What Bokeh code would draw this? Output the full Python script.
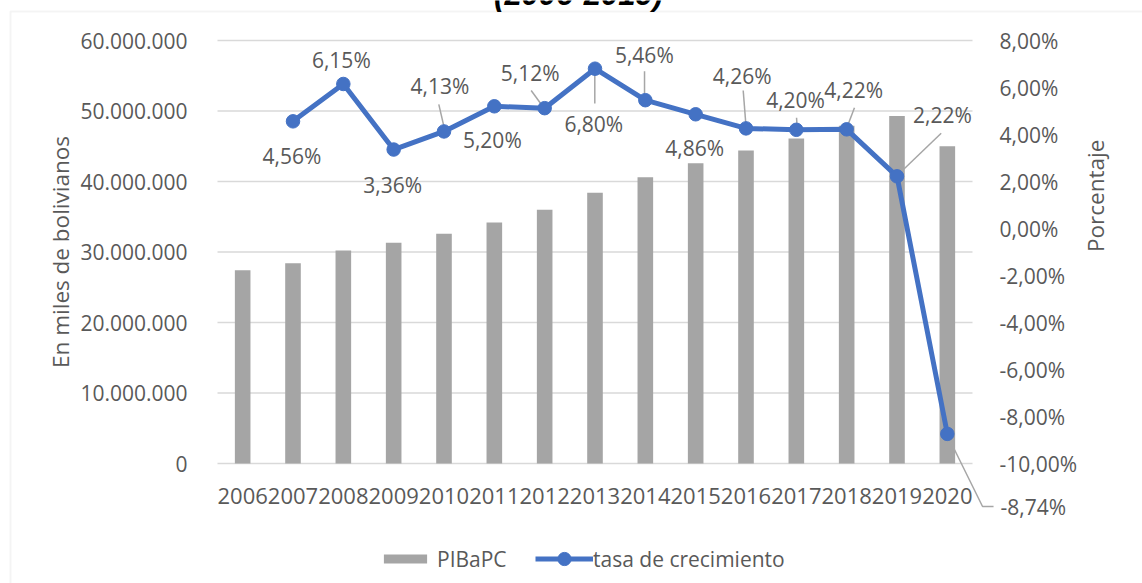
from bokeh.plotting import figure
from bokeh.models import (ColumnDataSource, Range1d, LinearAxis, FixedTicker, LabelSet,
                          Label, Legend, LegendItem, PolyAnnotation)
from bokeh.core.properties import value
from bokeh.embed import file_html
from bokeh.resources import INLINE

# ---------------- data ----------------
years = ["2006", "2007", "2008", "2009", "2010", "2011", "2012", "2013",
         "2014", "2015", "2016", "2017", "2018", "2019", "2020"]
pib_per_capita = [27.4e6, 28.4e6, 30.2e6, 31.3e6, 32.6e6, 34.2e6, 36.0e6, 38.4e6,
                  40.6e6, 42.6e6, 44.4e6, 46.1e6, 47.9e6, 49.3e6, 45.0e6]
growth_years = years[1:]
growth_rate = [4.56, 6.15, 3.36, 4.13, 5.20, 5.12, 6.80, 5.46, 4.86,
               4.26, 4.20, 4.22, 2.22, -8.74]
left_ticks = [0, 10e6, 20e6, 30e6, 40e6, 50e6, 60e6]
left_tick_labels = ["0", "10.000.000", "20.000.000", "30.000.000",
                    "40.000.000", "50.000.000", "60.000.000"]
right_ticks = [-10, -8, -6, -4, -2, 0, 2, 4, 6, 8]
right_tick_labels = ["-10,00%", "-8,00%", "-6,00%", "-4,00%", "-2,00%",
                     "0,00%", "2,00%", "4,00%", "6,00%", "8,00%"]
title_text = "(2006-2019)"
left_title = "En miles de bolivianos"
right_title = "Porcentaje"
bar_name = "PIBaPC"
line_name = "tasa de crecimiento"

# ---------------- layout / styling ----------------
PAGE_W, PAGE_H = 1142, 583
FR_L, FR_R, FR_T, FR_B = 217, 972, 40, 463       # plot area in page pixels
L_MIN, L_MAX = left_ticks[0], left_ticks[-1]
R_MIN, R_MAX = right_ticks[0], right_ticks[-1]
N = len(years)
PX_X = (FR_R - FR_L) / N
PX_L = (FR_B - FR_T) / (L_MAX - L_MIN)
PX_R = (FR_B - FR_T) / (R_MAX - R_MIN)

def px_to_x(px):
    return -0.5 + (px - FR_L) / PX_X

def py_to_yl(py):
    return L_MIN + (FR_B - py) / PX_L

def py_to_yr(py):
    return R_MIN + (FR_B - py) / PX_R

TEXT = "#595959"
FONT = "Open Sans"
BAR_C = "#A5A5A5"
LINE_C = "#4472C4"
GRID_C = "#D9D9D9"
LEADER_C = "#A6A6A6"

# label offsets in px from each point (x right, y up)
label_off = [(-1, -35), (-2, 23.5), (-1, -35.7), (-4, 45.3), (-2, -33.5),
             (-14.5, 35.4), (-1.2, -55.5), (-1, 45.5), (-1, -34), (-3.8, 52.2),
             (-0.8, 30), (7, 39.5), (45.5, 61), (86, -73.6)]
# leader lines in px relative to their point, keyed by growth index
leaders_px = {
    3: [(-5.2, 27), (0.8, 1)],
    5: [(-13.5, 17.7), (-0.9, 0.4)],
    6: [(-0.2, -0.8), (-0.2, -34.8)],
    7: [(-0.8, 29), (-0.8, 2.5)],
    9: [(-2.8, 37.9), (0.2, -0.4)],
    10: [(0.2, 12), (0.9, 1)],
    11: [(7.8, 21.5), (-0.2, 0.5)],
    12: [(44.2, 43.1), (0.2, 0.8)],
    13: [(1.2, -3.6), (35.2, -72.6), (46.2, -72.6)],
}

p = figure(width=PAGE_W, height=PAGE_H, output_backend="svg", toolbar_location=None,
           x_range=Range1d(px_to_x(0), px_to_x(PAGE_W)),
           y_range=Range1d(py_to_yl(PAGE_H), py_to_yl(0)),
           min_border=0, min_border_left=0, min_border_right=0,
           min_border_top=0, min_border_bottom=0,
           background_fill_color="white", border_fill_color="white")
p.outline_line_color = None
p.extra_y_ranges = {"pct": Range1d(py_to_yr(PAGE_H), py_to_yr(0))}
p.xgrid.visible = False
p.ygrid.visible = False

x_idx = list(range(N))
gx = [years.index(y) for y in growth_years]

# gridlines across the plot area only
p.segment(x0=[-0.5] * len(left_ticks), x1=[N - 0.5] * len(left_ticks),
          y0=left_ticks, y1=left_ticks, line_color=GRID_C, line_width=1.5)

bar_src = ColumnDataSource(dict(x=x_idx, top=pib_per_capita))
bars = p.vbar(x="x", top="top", width=0.31, source=bar_src, fill_color=BAR_C, line_color=None)

# leader lines
lxs, lys = [], []
for gi, pts in leaders_px.items():
    lxs.append([gx[gi] + dx / PX_X for dx, dy in pts])
    lys.append([growth_rate[gi] + dy / PX_R for dx, dy in pts])
p.multi_line(xs=lxs, ys=lys, y_range_name="pct", line_color=LEADER_C, line_width=1.5)

g_src = ColumnDataSource(dict(
    x=gx, y=growth_rate,
    text=[("%.2f" % v).replace(".", ",") + "%" for v in growth_rate],
    dx=[o[0] for o in label_off], dy=[o[1] for o in label_off]))
line = p.line(x="x", y="y", source=g_src, y_range_name="pct", line_color=LINE_C,
              line_width=5, line_join="round")
dots = p.scatter(x="x", y="y", source=g_src, y_range_name="pct", size=13.5,
                 fill_color=LINE_C, line_color=LINE_C)

labels = LabelSet(x="x", y="y", text="text", x_offset="dx", y_offset="dy", source=g_src,
                  y_range_name="pct", text_align="center", text_baseline="middle",
                  text_font=value(FONT), text_font_size="21px", text_color=TEXT)
p.add_layout(labels)

# axes (fixed at the plot-area edges)
xa = p.xaxis[0]
xa.fixed_location = L_MIN
xa.bounds = (-0.5, N - 0.5)
xa.ticker = FixedTicker(ticks=x_idx)
xa.major_label_overrides = {i: y for i, y in enumerate(years)}
xa.axis_line_color = None
xa.major_tick_line_color = None
xa.minor_tick_line_color = None
xa.major_label_standoff = 18
xa.major_label_text_font = FONT
xa.major_label_text_font_size = "22px"
xa.major_label_text_color = TEXT

yl = p.yaxis[0]
yl.fixed_location = -0.5
yl.bounds = (L_MIN, L_MAX)
yl.ticker = FixedTicker(ticks=left_ticks)
yl.major_label_overrides = {t: s for t, s in zip(left_ticks, left_tick_labels)}
yl.axis_line_color = None
yl.major_tick_line_color = None
yl.minor_tick_line_color = None
yl.major_label_standoff = 24
yl.major_label_text_font = FONT
yl.major_label_text_font_size = "21px"
yl.major_label_text_color = TEXT
yl.axis_label = left_title
yl.axis_label_text_font = FONT
yl.axis_label_text_font_size = "22.5px"
yl.axis_label_text_font_style = "normal"
yl.axis_label_text_color = TEXT
yl.axis_label_standoff = 1

yr = LinearAxis(y_range_name="pct", fixed_location=N - 0.5, bounds=(R_MIN, R_MAX))
yr.ticker = FixedTicker(ticks=right_ticks)
yr.major_label_overrides = {t: s for t, s in zip(right_ticks, right_tick_labels)}
yr.axis_line_color = None
yr.major_tick_line_color = None
yr.minor_tick_line_color = None
yr.major_label_standoff = 21
yr.major_label_text_font = FONT
yr.major_label_text_font_size = "21px"
yr.major_label_text_color = TEXT
yr.axis_label = right_title
yr.axis_label_orientation = 1.5707963267948966
yr.axis_label_text_font = FONT
yr.axis_label_text_font_size = "22.5px"
yr.axis_label_text_font_style = "normal"
yr.axis_label_text_color = TEXT
yr.axis_label_standoff = 15
p.add_layout(yr, "right")

# legends (row centred at y = 558 px)
ROW_CY = 558.5

def add_legend(item, x_page, gw, gh, standoff):
    row_h = max(gh, 28.6)
    lg = Legend(items=[item], location=(x_page, PAGE_H - (ROW_CY + row_h / 2)),
                orientation="horizontal",
                glyph_width=gw, glyph_height=gh, label_standoff=standoff,
                padding=0, margin=0, border_line_color=None, background_fill_alpha=0,
                label_text_font=FONT, label_text_font_size="21px", label_text_color=TEXT)
    p.add_layout(lg)

add_legend(LegendItem(label=bar_name, renderers=[bars]), 378, 54, 11, 5)
add_legend(LegendItem(label=line_name, renderers=[line, dots]), 535, 58, 33, 0)

# chart-area border and the clipped title line
border = PolyAnnotation(xs=[px_to_x(10), px_to_x(10), px_to_x(1400), px_to_x(1400)],
                        ys=[py_to_yl(800), py_to_yl(11), py_to_yl(11), py_to_yl(800)],
                        fill_color=None, fill_alpha=0, line_color=GRID_C, line_width=2)
p.add_layout(border)
title = Label(x=px_to_x(578), y=py_to_yl(-6), text=title_text, text_align="center",
              text_baseline="alphabetic", text_font="Liberation Sans",
              text_font_style="bold italic", text_font_size="31px", text_color="black")
p.add_layout(title)

open("out.html", "w").write(file_html(p, INLINE))
